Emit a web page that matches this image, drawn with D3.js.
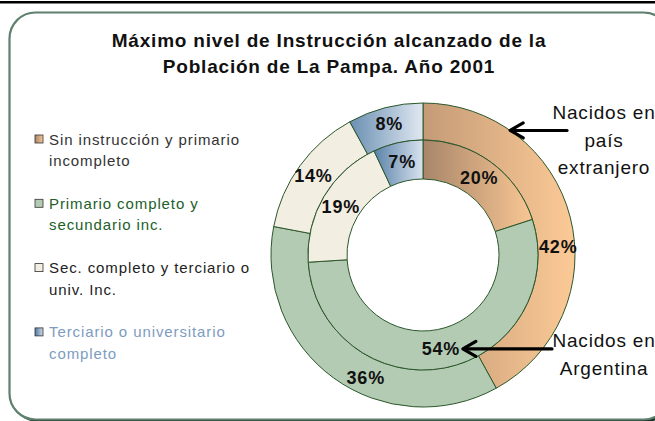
<!DOCTYPE html>
<html>
<head>
<meta charset="utf-8">
<script src="https://cdn.jsdelivr.net/npm/d3@7"></script>
<style>
  html, body { margin: 0; padding: 0; background: #fff; }
  svg { display: block; font-family: 'Liberation Sans', Arial, sans-serif; }
</style>
</head>
<body>
<div id="chart"></div>
<script>
// ===== DATA =====
const categories = [
  ['Sin instrucción y primario', 'incompleto'],
  ['Primario completo y', 'secundario inc.'],
  ['Sec. completo y terciario o', 'univ. Inc.'],
  ['Terciario o universitario', 'completo']
];
const extranjeros = [42, 36, 14, 8];   // outer ring
const argentinos = [20, 54, 19, 7];    // inner ring
const titleLines = ['Máximo nivel de Instrucción alcanzado de la', 'Población de La Pampa. Año 2001'];
const ringNames = [['Nacidos en', 'país', 'extranjero'], ['Nacidos en', 'Argentina']];

// ===== SETUP =====
const W = 655, H = 421;
const cx = 423, cy = 255;
const rOuter = 152, rMid = 115, rInner = 76;

const svg = d3.select('#chart').append('svg')
  .attr('width', W)
  .attr('height', H);

const defs = svg.append('defs');

// horizontal gradients like the excel fills
function grad(id, from, to) {
  const g = defs.append('linearGradient').attr('id', id)
    .attr('x1', 0).attr('x2', 1).attr('y1', 0).attr('y2', 0);
  g.append('stop').attr('offset', '0%').attr('stop-color', from);
  g.append('stop').attr('offset', '100%').attr('stop-color', to);
}
grad('orange-out', '#c49b77', '#fcca96');
grad('orange-in', '#a8866a', '#f8c693');
grad('blue-out', '#6a8fb3', '#e0e8f1');
grad('blue-in', '#5a82aa', '#d9e3ee');
grad('orange-key', '#a8866a', '#f8c693');
grad('blue-key', '#4f76a0', '#d0dcea');

const fillsOuter = ['url(#orange-out)', '#b3cbb2', '#f3eee2', 'url(#blue-out)'];
const fillsInner = ['url(#orange-in)', '#b3cbb2', '#f3eee2', 'url(#blue-in)'];
const keyFills = ['url(#orange-key)', '#b3cbb2', '#f3eee2', 'url(#blue-key)'];
const keyText = ['#333333', '#22602a', '#222222', '#7d9cc0'];

// top black rule
svg.append('rect')
  .attr('x', 0).attr('y', 1)
  .attr('width', W).attr('height', 2.5)
  .attr('fill', '#000');

// frame with shadow
svg.append('rect')
  .attr('x', 12).attr('y', 15)
  .attr('width', 660).attr('height', 407)
  .attr('rx', 26).attr('ry', 26)
  .attr('fill', '#1d3128');

svg.append('rect')
  .attr('x', 9.5).attr('y', 12.5)
  .attr('width', 660).attr('height', 407)
  .attr('rx', 26).attr('ry', 26)
  .attr('fill', '#fff')
  .attr('stroke', '#5f7f6f')
  .attr('stroke-width', 2.2);

// ===== TITLE =====
svg.append('g').selectAll('text')
  .data(titleLines)
  .join('text')
  .attr('x', 329)
  .attr('y', (d, i) => 47 + i * 26)
  .attr('text-anchor', 'middle')
  .attr('font-size', '19px')
  .attr('font-weight', 'bold')
  .attr('letter-spacing', '0.8px')
  .attr('fill', '#111')
  .text(d => d);

// ===== DOUGHNUT =====
const pie = d3.pie().sort(null).value(d => d);
const chart = svg.append('g').attr('transform', `translate(${cx},${cy})`);

const arcOut = d3.arc().innerRadius(rMid).outerRadius(rOuter);
const arcIn = d3.arc().innerRadius(rInner).outerRadius(rMid);

const rings = [
  { values: extranjeros, arc: arcOut, fills: fillsOuter, key: 'out' },
  { values: argentinos, arc: arcIn, fills: fillsInner, key: 'in' }
];

// excel moved two of the outer labels off the slice middle
const nudge = { 'out-0': 11, 'out-1': -11 };

rings.forEach(ring => {
  const slices = pie(ring.values);

  chart.append('g').selectAll('path')
    .data(slices)
    .join('path')
    .attr('d', ring.arc)
    .attr('fill', (d, i) => ring.fills[i])
    .attr('stroke', '#2c572c')
    .attr('stroke-width', 1);

  chart.append('g').selectAll('text')
    .data(slices)
    .join('text')
    .attr('transform', (d, i) => {
      const shift = (nudge[ring.key + '-' + i] || 0) * Math.PI / 180;
      const a = (d.startAngle + d.endAngle) / 2 + shift;
      const r = (ring.arc.innerRadius()() + ring.arc.outerRadius()()) / 2 + (ring.key === 'out' ? 2 : 0);
      return `translate(${r * Math.sin(a)},${-r * Math.cos(a)})`;
    })
    .attr('text-anchor', 'middle')
    .attr('dy', '0.36em')
    .attr('font-size', '18px')
    .attr('font-weight', 'bold')
    .attr('letter-spacing', '0.8px')
    .attr('fill', '#111')
    .text(d => d.data + '%');
});

// ===== LEGEND =====
const legend = svg.append('g').attr('transform', 'translate(35,135)');
const item = legend.selectAll('g')
  .data(categories)
  .join('g')
  .attr('transform', (d, i) => `translate(0,${i * 64.3})`);

item.append('rect')
  .attr('width', 8).attr('height', 8)
  .attr('fill', (d, i) => keyFills[i])
  .attr('stroke', '#333')
  .attr('stroke-width', 0.8);

item.selectAll('text')
  .data((d, i) => d.map(t => ({ t, i })))
  .join('text')
  .attr('x', 14)
  .attr('y', (d, j) => 9.5 + j * 21.5)
  .attr('font-size', '15px')
  .attr('letter-spacing', '0.9px')
  .attr('fill', d => keyText[d.i])
  .text(d => d.t);

// ===== RING ANNOTATIONS =====
const annX = cx + rOuter + 29;
const toRad = Math.PI / 180;

function arrow(tipX, tipY, endX) {
  const g = svg.append('g')
    .attr('stroke', '#000')
    .attr('stroke-width', 3.2)
    .attr('fill', 'none')
    .attr('stroke-linecap', 'round');
  g.append('line').attr('x1', tipX + 2).attr('y1', tipY).attr('x2', endX).attr('y2', tipY);
  g.append('path')
    .attr('d', `M${tipX + 13},${tipY - 7.5}L${tipX},${tipY}L${tipX + 13},${tipY + 7.5}`)
    .attr('stroke-linejoin', 'round');
}

function label(lines, firstBaseline) {
  svg.append('g').selectAll('text')
    .data(lines)
    .join('text')
    .attr('x', annX)
    .attr('y', (d, i) => firstBaseline + i * 27.5)
    .attr('text-anchor', 'middle')
    .attr('font-size', '19px')
    .attr('letter-spacing', '0.8px')
    .attr('fill', '#111')
    .text(d => d);
}

// foreign born -> outer ring edge
const a1 = 35 * toRad;
arrow(cx + rOuter * Math.sin(a1), cy - rOuter * Math.cos(a1), annX - 37);
label(ringNames[0], 119);

// argentine born -> inner ring
const a2 = 157 * toRad, r2 = 102;
arrow(cx + r2 * Math.sin(a2), cy - r2 * Math.cos(a2), annX - 52);
label(ringNames[1], 347);
</script>
</body>
</html>
